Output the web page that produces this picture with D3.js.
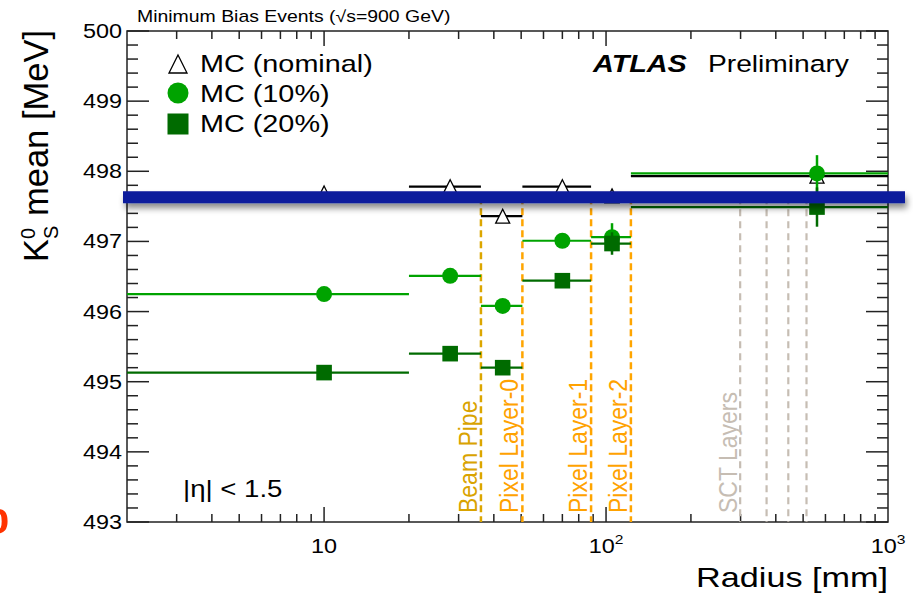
<!DOCTYPE html>
<html>
<head>
<meta charset="utf-8">
<style>
  body { margin: 0; background: #fff; }
  text { font-family: "Liberation Sans", Arial, Helvetica, sans-serif; }
</style>
</head>
<body>
<div id="chart"></div>
<script src="https://d3js.org/d3.v7.min.js"></script>
<script>
// bins in radius [mm]
var binEdges = [2, 20, 36, 50.5, 88.5, 122.5, 1000];
var binCenter = [10, 28, 43, 70, 105, 560];

// K0s mean [MeV]
var mcNominal = [497.69, 497.78, 497.36, 497.78, 497.65, 497.93];
var mc10 = [496.25, 496.51, 496.08, 497.01, 497.06, 497.97];
var mc10Err = [0.03, 0.03, 0.03, 0.03, 0.20, 0.26];
var mc20 = [495.13, 495.40, 495.20, 496.44, 496.97, 497.49];
var mc20Err = [0.03, 0.03, 0.03, 0.03, 0.16, 0.28];

// detector layers
var layerNames = ["Beam Pipe", "Pixel Layer-0", "Pixel Layer-1", "Pixel Layer-2"];
var layerRadius = [36, 50.5, 88.5, 122.5];
var layerColors = ["#dca600", "#ffa500", "#ffa500", "#ffa500"];
var sctRadius = [299, 371, 443, 514];

var yTicks = [493, 494, 495, 496, 497, 498, 499, 500];
var xTicks = [10, 100, 1000];
var xTickLabels = [["10", ""], ["10", "2"], ["10", "3"]];

var bandValue = 497.63;

var width = 913, height = 597;
var mLeft = 127, mRight = 888, mTop = 31, mBottom = 522;
var sx = 1.2; // text in the picture is a bit wide

var svg = d3.select("#chart").append("svg")
    .attr("width", width)
    .attr("height", height);

var x = d3.scaleLog().domain([2, 1000]).range([mLeft, mRight]);
var y = d3.scaleLinear().domain([493, 500]).range([mBottom, mTop]);

var defs = svg.append("defs");
var shadow = defs.append("filter").attr("id", "shadow")
    .attr("x", "-5%").attr("y", "-100%").attr("width", "110%").attr("height", "300%");
shadow.append("feDropShadow")
    .attr("dx", 2).attr("dy", 5).attr("stdDeviation", 3)
    .attr("flood-color", "#000").attr("flood-opacity", 0.45);

function label(x0, y0, str, size, anchor, color, weight, style) {
    return svg.append("text")
        .attr("transform", "translate(" + x0 + "," + y0 + ") scale(" + sx + ",1)")
        .attr("text-anchor", anchor || "start")
        .attr("font-size", size)
        .attr("font-weight", weight || "normal")
        .attr("font-style", style || "normal")
        .attr("fill", color || "#000")
        .text(str);
}

// frame
svg.append("rect")
    .attr("x", mLeft).attr("y", mTop)
    .attr("width", mRight - mLeft).attr("height", mBottom - mTop)
    .attr("fill", "none").attr("stroke", "#222").attr("stroke-width", 1.5);

// y ticks, left and right
var yMinor = d3.range(493, 500.001, 0.2);
yMinor.forEach(function(v) {
    var major = Math.abs(v - Math.round(v)) < 1e-6;
    var len = major ? 22 : 11;
    svg.append("line").attr("x1", mLeft).attr("x2", mLeft + len)
        .attr("y1", y(v)).attr("y2", y(v)).attr("stroke", "#222").attr("stroke-width", 1.5);
    svg.append("line").attr("x1", mRight).attr("x2", mRight - len)
        .attr("y1", y(v)).attr("y2", y(v)).attr("stroke", "#222").attr("stroke-width", 1.5);
});
yTicks.forEach(function(v) {
    label(122, y(v) + 7, v, 19.5, "end");
});

// x ticks, bottom and top
var xMinor = [];
[1, 10, 100].forEach(function(d) {
    for (var k = 1; k <= 9; k++) {
        var v = d * k;
        if (v > 2 && v < 1000) xMinor.push(v);
    }
});
xMinor.forEach(function(v) {
    var len = xTicks.indexOf(v) >= 0 ? 15 : 8;
    svg.append("line").attr("x1", x(v)).attr("x2", x(v))
        .attr("y1", mBottom).attr("y2", mBottom - len).attr("stroke", "#222").attr("stroke-width", 1.5);
    svg.append("line").attr("x1", x(v)).attr("x2", x(v))
        .attr("y1", mTop).attr("y2", mTop + len).attr("stroke", "#222").attr("stroke-width", 1.5);
});
xTicks.forEach(function(v, i) {
    var t = label(x(v), 553, "", 19.5, "middle");
    t.append("tspan").text(xTickLabels[i][0]);
    if (xTickLabels[i][1]) {
        t.append("tspan").attr("font-size", 13).attr("dy", -9).text(xTickLabels[i][1]);
    }
});

// axis titles
label(mRight, 587, "Radius [mm]", 28.5, "end");
var yl = svg.append("text")
    .attr("transform", "translate(48,30) rotate(-90)")
    .attr("text-anchor", "end")
    .attr("font-size", 34.5);
yl.append("tspan").text("K");
yl.append("tspan").attr("font-size", 20).attr("dy", -13).text("0");
yl.append("tspan").attr("font-size", 20).attr("dx", -11).attr("dy", 23).text("S");
yl.append("tspan").attr("dy", -10).text(" mean [MeV]");

label(137, 22, "Minimum Bias Events (\u221As=900 GeV)", 16.2, "start");

// layer lines
var lineTop = y(bandValue);
layerRadius.forEach(function(r, i) {
    svg.append("line").attr("x1", x(r)).attr("x2", x(r))
        .attr("y1", lineTop).attr("y2", mBottom)
        .attr("stroke", layerColors[i]).attr("stroke-width", 2.5)
        .attr("stroke-dasharray", "7,4");
    svg.append("text")
        .attr("transform", "translate(" + (x(r) - 4) + ",513) scale(1.15,1) rotate(-90)")
        .attr("font-size", 23)
        .attr("fill", i == 0 ? "#d9a300" : "#ffa200")
        .text(layerNames[i]);
});
sctRadius.forEach(function(r) {
    svg.append("line").attr("x1", x(r)).attr("x2", x(r))
        .attr("y1", lineTop).attr("y2", mBottom)
        .attr("stroke", "#c6bdb3").attr("stroke-width", 2.2)
        .attr("stroke-dasharray", "7,5");
});
svg.append("text")
    .attr("transform", "translate(" + (x(sctRadius[0]) - 3) + ",513) scale(1.15,1) rotate(-90)")
    .attr("font-size", 23)
    .attr("fill", "#c6bdb3")
    .text("SCT Layers");

// markers
function triangle(g, cx, cy, s) {
    g.append("path")
        .attr("d", "M" + cx + "," + (cy - s) + "L" + (cx + s) + "," + (cy + s) + "L" + (cx - s) + "," + (cy + s) + "Z")
        .attr("fill", "#fff").attr("stroke", "#000").attr("stroke-width", 1.3);
}
function circle(g, cx, cy, r, color) {
    g.append("circle").attr("cx", cx).attr("cy", cy).attr("r", r).attr("fill", color);
}
function square(g, cx, cy, s, color) {
    g.append("rect").attr("x", cx - s).attr("y", cy - s)
        .attr("width", 2 * s).attr("height", 2 * s).attr("fill", color);
}

var green = "#00a300", dark = "#006b00";

function drawSeries(vals, errs, color, marker) {
    var g = svg.append("g");
    vals.forEach(function(v, i) {
        g.append("line")
            .attr("x1", x(binEdges[i])).attr("x2", x(binEdges[i + 1]))
            .attr("y1", y(v)).attr("y2", y(v))
            .attr("stroke", color).attr("stroke-width", 2.2);
        if (errs) {
            g.append("line")
                .attr("x1", x(binCenter[i])).attr("x2", x(binCenter[i]))
                .attr("y1", y(v - errs[i])).attr("y2", y(v + errs[i]))
                .attr("stroke", color).attr("stroke-width", 2.5);
        }
        marker(g, x(binCenter[i]), y(v));
    });
}

drawSeries(mcNominal, null, "#000", function(g, cx, cy) { triangle(g, cx, cy, 7); });
drawSeries(mc10, mc10Err, green, function(g, cx, cy) { circle(g, cx, cy, 8, green); });
drawSeries(mc20, mc20Err, dark, function(g, cx, cy) { square(g, cx, cy, 7.8, dark); });

// legend
var leg = svg.append("g");
var legY = [64, 93, 124];
triangle(leg, 178, legY[0], 9);
circle(leg, 178, legY[1], 10.5, green);
square(leg, 178, legY[2], 10.5, dark);
label(200, 72, "MC (nominal)", 24, "start");
label(200, 102, "MC (10%)", 24, "start");
label(200, 132, "MC (20%)", 24, "start");

label(593, 72, "ATLAS", 24, "start", "#000", "bold", "italic");
label(708, 72, "Preliminary", 23.5, "start");
label(183, 497, "|\u03B7| < 1.5", 23, "start");

// annotation band on top of the plot
svg.append("rect")
    .attr("x", 123).attr("width", 905 - 123)
    .attr("y", y(bandValue) - 6).attr("height", 12)
    .attr("fill", "#0a1c9c")
    .attr("filter", "url(#shadow)");

// piece of slide text cut at the left edge
svg.append("text")
    .attr("x", 9).attr("y", 533)
    .attr("text-anchor", "end")
    .attr("font-size", 56)
    .attr("font-weight", "bold")
    .attr("fill", "#ff3300")
    .text("%");
</script>
</body>
</html>
